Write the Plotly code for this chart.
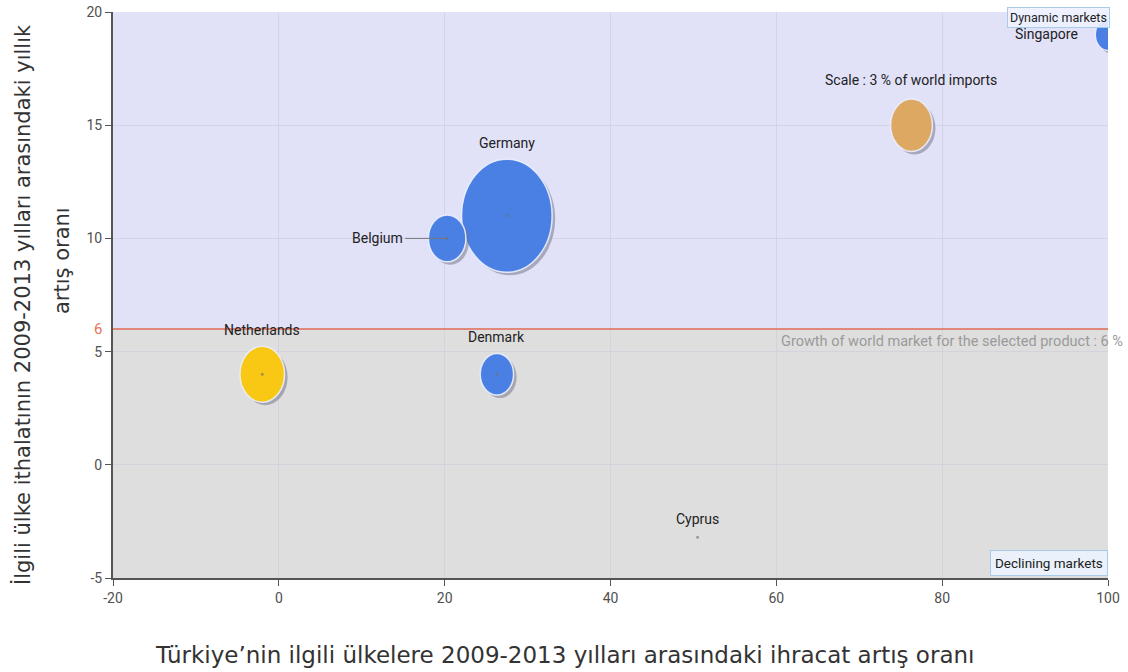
import math
import plotly.graph_objects as go

# ---- data ----
countries = ["Germany", "Belgium", "Netherlands", "Denmark", "Cyprus", "Singapore"]
export_growth = [27.5, 20.3, -2.0, 26.3, 50.5, 100.0]     # x: Türkiye export growth 2009-2013 (%)
import_growth = [11.0, 10.0, 4.0, 4.0, -3.2, 19.0]         # y: partner import growth 2009-2013 (%)
world_share = [14.0, 2.4, 3.4, 1.9, 0.02, 1.1]             # share of world imports (%)
scale_ref = {"x": 76.3, "y": 15.0, "share": 3.0}
world_growth = 6
x_ticks = [-20, 0, 20, 40, 60, 80, 100]
x_ticktext = ["-20", "0", "20", "40", "60", "80", "100"]
y_ticks = [-5, 0, 5, 10, 15, 20]
y_ticktext = ["-5", "0", "5", "10", "15", "20"]

# ---- layout constants ----
W, H = 1128, 672
ML, MR, MT, MB = 113, 20, 12, 94
PW, PH = W - ML - MR, H - MT - MB
XR = [-20, 100]
YR = [-5, 20]
xu = (XR[1] - XR[0]) / PW   # data units per px
yu = (YR[1] - YR[0]) / PH

BLUE = "#4A7FE3"
YELLOW = "#F9C814"
TAN = "#DDA862"
colors = [BLUE, BLUE, YELLOW, BLUE, "#999999", BLUE]

FAM = "Liberation Sans Narrow, Roboto, Liberation Sans, sans-serif"
LABEL_FONT = dict(family=FAM, size=14, color="#222222")

fig = go.Figure()
shapes = []
annotations = []

# background zones
shapes.append(dict(type="rect", xref="x", yref="y", x0=XR[0], x1=XR[1], y0=world_growth, y1=YR[1],
                   fillcolor="#E1E1F8", line=dict(width=0), layer="below"))
shapes.append(dict(type="rect", xref="x", yref="y", x0=XR[0], x1=XR[1], y0=YR[0], y1=world_growth,
                   fillcolor="#DEDEDE", line=dict(width=0), layer="below"))


def dims(share):
    dw = 24.2 * math.sqrt(share)
    dh = 1.25 * dw
    return dw, dh


def bubble(x, y, share, color):
    dw, dh = dims(share)
    rx, ry = dw / 2 * xu, dh / 2 * yu
    sx, sy = 3 * xu, 3 * yu
    shapes.append(dict(type="circle", xref="x", yref="y",
                       x0=x - rx + sx, x1=x + rx + sx, y0=y - ry - sy, y1=y + ry - sy,
                       fillcolor="rgba(110,110,130,0.5)", line=dict(width=0), layer="between"))
    shapes.append(dict(type="circle", xref="x", yref="y",
                       x0=x - rx, x1=x + rx, y0=y - ry, y1=y + ry,
                       fillcolor=color, line=dict(color="rgba(235,240,255,0.9)", width=1.5),
                       layer="between"))
    return dw, dh


for c, x, y, s, col in zip(countries, export_growth, import_growth, world_share, colors):
    if s >= 0.5:
        dw, dh = bubble(x, y, s, col)
    else:
        dw, dh = dims(s)
    if c == "Belgium":
        annotations.append(dict(x=x, y=y, xref="x", yref="y", text=c, showarrow=True,
                                ax=-42, ay=0, arrowhead=0, arrowwidth=1, arrowcolor="#777777",
                                xanchor="right", font=LABEL_FONT))
    elif c == "Singapore":
        annotations.append(dict(x=x, y=y, xref="x", yref="y", text=c, showarrow=False,
                                xshift=-62, yshift=1, font=LABEL_FONT))
    else:
        annotations.append(dict(x=x, y=y, xref="x", yref="y", text=c, showarrow=False,
                                yanchor="bottom", yshift=dh / 2 + 6, font=LABEL_FONT))

# scale reference bubble
dw, dh = bubble(scale_ref["x"], scale_ref["y"], scale_ref["share"], TAN)
annotations.append(dict(x=scale_ref["x"], y=scale_ref["y"], xref="x", yref="y",
                        text="Scale : 3 % of world imports", showarrow=False,
                        yanchor="bottom", yshift=dh / 2 + 9, font=LABEL_FONT))

# world growth line
fig.add_trace(go.Scatter(x=[XR[0], XR[1]], y=[world_growth, world_growth], mode="lines",
                         line=dict(color="#E06A55", width=1.5), hoverinfo="skip", showlegend=False))

# center dots
fig.add_trace(go.Scatter(x=export_growth, y=import_growth, mode="markers", text=countries,
                         marker=dict(size=3, color="rgba(110,110,110,0.6)"),
                         hovertemplate="%{text}<br>x=%{x}<br>y=%{y}<extra></extra>", showlegend=False))

annotations.append(dict(x=0, y=world_growth, xref="paper", yref="y", text=str(world_growth),
                        showarrow=False, xanchor="right", xshift=-9,
                        font=dict(family=FAM, size=15, color="#E8735A")))
annotations.append(dict(x=1, y=world_growth, xref="paper", yref="y",
                        text="Growth of world market for the selected product : 6 %",
                        showarrow=False, xanchor="right", yanchor="top", xshift=17, yshift=-2,
                        font=dict(family=FAM, size=14.5, color="#9A9A9A")))
annotations.append(dict(x=1, y=1, xref="paper", yref="paper", text="Dynamic markets",
                        showarrow=False, xanchor="right", yanchor="top", yshift=5, xshift=2,
                        bgcolor="rgba(238,242,255,0.9)", bordercolor="#A9CBEA", borderwidth=1,
                        borderpad=2, font=dict(family=FAM, size=12.5, color="#222222")))
annotations.append(dict(x=1, y=0, xref="paper", yref="paper", text="Declining markets",
                        showarrow=False, xanchor="right", yanchor="bottom", yshift=2,
                        bgcolor="#EAF1FA", bordercolor="#A9CBEA", borderwidth=1,
                        borderpad=4, font=dict(family=FAM, size=13.5, color="#222222")))

# axis titles
TITLE_FONT = dict(family="DejaVu Sans, Open Sans, sans-serif", size=21, color="#333333")
annotations.append(dict(x=(564 - ML) / PW, y=-(655 - (H - MB)) / PH, xref="paper", yref="paper",
                        xanchor="center", yanchor="middle",
                        text="Türkiye’nin ilgili ülkelere 2009-2013 yılları arasındaki ihracat artış oranı",
                        showarrow=False, font=dict(TITLE_FONT, size=23)))
annotations.append(dict(x=-(ML - 22) / PW, y=1 - (305 - MT) / PH, xref="paper", yref="paper",
                        xanchor="center", yanchor="middle",
                        text="İlgili ülke ithalatının 2009-2013 yılları arasındaki yıllık",
                        showarrow=False, textangle=-90, font=TITLE_FONT))
annotations.append(dict(x=-(ML - 62) / PW, y=1 - (261 - MT) / PH, xref="paper", yref="paper",
                        xanchor="center", yanchor="middle",
                        text="artış oranı", showarrow=False, textangle=-90, font=TITLE_FONT))

TICK_FONT = dict(family=FAM, size=14, color="#505050")
fig.update_layout(
    width=W, height=H,
    margin=dict(l=ML, r=MR, t=MT, b=MB, pad=0, autoexpand=False),
    paper_bgcolor="white", plot_bgcolor="#DEDEDE",
    shapes=shapes, annotations=annotations,
    xaxis=dict(range=XR, tickvals=x_ticks, ticktext=x_ticktext, showgrid=True,
               gridcolor="rgba(200,200,215,0.5)", automargin=False,
               zeroline=False, showline=True, linecolor="#555555", linewidth=2,
               ticks="outside", ticklen=6, tickcolor="#555555", tickfont=TICK_FONT, fixedrange=True),
    yaxis=dict(range=YR, tickvals=y_ticks, ticktext=y_ticktext, showgrid=True,
               gridcolor="rgba(200,200,215,0.5)", automargin=False,
               zeroline=False, showline=True, linecolor="#555555", linewidth=2,
               ticks="outside", ticklen=6, tickcolor="#555555", tickfont=TICK_FONT, fixedrange=True),
    showlegend=False,
)

fig.write_html("out.html")
